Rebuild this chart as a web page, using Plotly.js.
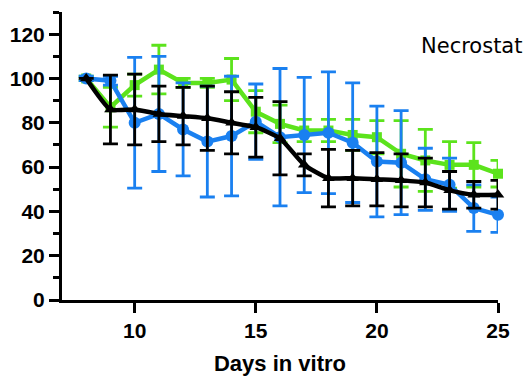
<!DOCTYPE html>
<html><head><meta charset="utf-8">
<script src="https://cdn.plot.ly/plotly-3.0.1.min.js"></script>
<style>html,body{margin:0;padding:0;background:#fff;overflow:hidden}#c{width:524px;height:376px}</style>
</head><body><div id="c"></div>
<script>
const days = [8,9,10,11,12,13,14,15,16,17,18,19,20,21,22,23,24,25];
const greenMean = [100,87,97,104,98,98,99.5,85,79.5,76.5,76.5,74.5,73.5,66,63,61,61,57];
const greenErr  = [1,9,5,11,2,2,9.5,9.5,8.5,5,5,7,7.5,15,14,10.5,10,6];
const blueMean  = [100,99,80,84,77,71.5,74,80.5,73.5,74.5,75.5,71,62.5,62,54.5,52,41.5,38.5];
const blueErr   = [1,2,29.5,26,21,25,27,17,31,26,27.5,27,25,23.5,14,12,10.5,8];
const blackMean = [100,86,86,84,83,82,80,78,73,61,55,55,54.5,54,53,49.5,47.5,47.5];
const blackErr  = [0,15.5,16,12.5,13,14.5,14,13.5,16.5,5,13,12.5,12,12,11,8.5,6,6.5];
const xTicks = [10,15,20,25];
const yTicks = [0,20,40,60,80,100,120];
const yMinor = [10,30,50,70,90,110,130];
const labelText = 'Necrostat';

const GREEN = '#5ce31c', BLUE = '#1a80f0', BLACK = '#000000';
function tr(y, e, color, symbol, size, shape){
  return {x: days, y: y, type:'scatter', mode:'lines+markers',
    line:{color:color, width:4.5, shape:shape, smoothing:0.5},
    marker:{color:color, symbol:symbol, size:size},
    error_y:{type:'data', array:e, visible:true, color:color, thickness:2.8, width:7.5},
    showlegend:false, cliponaxis:false};
}
const data = [
  tr(greenMean, greenErr, GREEN, 'square', 10, 'linear'),
  tr(blueMean, blueErr, BLUE, 'circle', 12, 'linear'),
  tr(blackMean, blackErr, BLACK, 'triangle-up', 11, 'spline')
];
const FF = '"Liberation Sans", Arial, sans-serif';
const tickFont = {family:FF, size:21, color:'#000', weight:'bold'};
const layout = {
  width:524, height:376,
  margin:{l:62, r:26, t:12, b:76},
  paper_bgcolor:'#fff', plot_bgcolor:'#fff',
  showlegend:false,
  xaxis:{range:[7,25], tickvals:xTicks, ticktext:xTicks.map(String), showgrid:false, zeroline:false,
    showline:true, linecolor:'#000', linewidth:3, ticks:'outside', ticklen:10, tickwidth:3, tickcolor:'#000',
    tickfont:tickFont, title:{text:'<b>Days in vitro</b>', font:{family:FF, size:22, color:'#000'}, standoff:16}},
  yaxis:{range:[0,130], tickvals:yTicks, ticktext:yTicks.map(String), showgrid:false, zeroline:false,
    showline:true, linecolor:'#000', linewidth:3, ticks:'outside', ticklen:10, tickwidth:3, tickcolor:'#000',
    tickfont:tickFont,
    minor:{tickvals:yMinor, ticks:'outside', ticklen:6, tickwidth:3, tickcolor:'#000', showgrid:false}},
  annotations:[{xref:'paper', yref:'paper', x:0.819, y:0.883, xanchor:'left', yanchor:'middle',
    text:labelText, showarrow:false, font:{family:'"DejaVu Sans", sans-serif', size:21, color:'#000'}}]
};
Plotly.newPlot('c', data, layout, {displayModeBar:false, staticPlot:true});
</script></body></html>
